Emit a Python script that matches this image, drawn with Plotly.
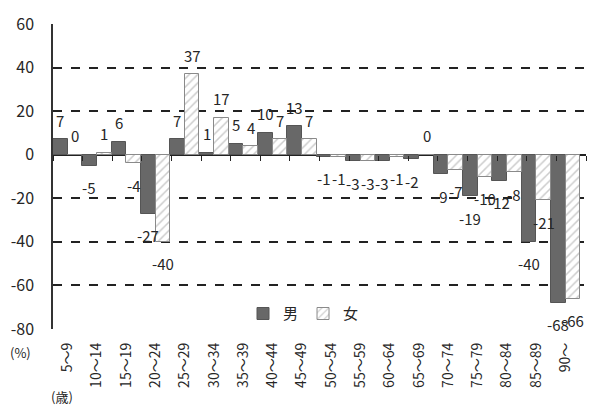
import plotly.graph_objects as go

# Age groups and percentage change by sex
age_groups = ["5～9", "10～14", "15～19", "20～24", "25～29", "30～34", "35～39",
              "40～44", "45～49", "50～54", "55～59", "60～64", "65～69", "70～74",
              "75～79", "80～84", "85～89", "90～"]
male = [7, -5, 6, -27, 7, 1, 5, 10, 13, -1, -3, -3, -2, -9, -19, -12, -40, -68]
female = [0, 1, -4, -40, 37, 17, 4, 7, 7, -1, -3, -1, 0, -7, -10, -8, -21, -66]

y_ticks = [-80, -60, -40, -20, 0, 20, 40, 60]
y_tick_text = ["-80", "-60", "-40", "-20", "0", "20", "40", "60"]

FONT = "Noto Sans CJK JP, Noto Sans, sans-serif"
TXT = "#262626"

fig = go.Figure()
fig.add_trace(go.Bar(
    name="男", x=age_groups, y=male,
    marker=dict(color="#686868", line=dict(color="#555555", width=1)),
))
fig.add_trace(go.Bar(
    name="女", x=age_groups, y=female,
    marker=dict(color="white", line=dict(color="#8a8a8a", width=1),
                pattern=dict(shape="/", fgcolor="#9a9a9a", bgcolor="white",
                             size=6, solidity=0.25)),
))
# empty trace so the category-boundary tick axis at zero is rendered
fig.add_trace(go.Scatter(x=[], y=[], xaxis="x2", showlegend=False, hoverinfo="skip"))

# value labels just beyond the end of each bar
annotations = []
for vals, dx in ((male, -7.5), (female, 7.5)):
    for cat, v in zip(age_groups, vals):
        annotations.append(dict(
            x=cat, y=v, xref="x", yref="y", text=str(v), showarrow=False,
            xshift=dx, yshift=19 if v >= 0 else -22,
            font=dict(family=FONT, size=15, color=TXT),
        ))

annotations += [
    dict(text="(%)", xref="paper", yref="paper", x=-0.061, y=-0.078,
         xanchor="center", yanchor="middle", showarrow=False,
         font=dict(family=FONT, size=13, color=TXT)),
    dict(text="(歳)", xref="paper", yref="paper", x=0.017, y=-0.220,
         xanchor="center", yanchor="middle", showarrow=False,
         font=dict(family=FONT, size=13, color=TXT)),
]

fig.update_layout(
    width=597, height=413,
    margin=dict(l=47, r=11, t=20, b=84),
    paper_bgcolor="white", plot_bgcolor="white",
    barmode="group", bargap=0, bargroupgap=0,
    font=dict(family=FONT, color=TXT),
    showlegend=True,
    legend=dict(orientation="h", x=0.47, y=0.05, xanchor="center", yanchor="middle",
                font=dict(family=FONT, size=15, color=TXT), bgcolor="rgba(0,0,0,0)",
                itemwidth=30),
    xaxis=dict(
        type="category", tickangle=-90, ticks="", showline=False, showgrid=False,
        tickfont=dict(family=FONT, size=14, color=TXT), ticklabelstandoff=10,
    ),
    xaxis2=dict(
        overlaying="x", anchor="free", position=80 / 140, side="bottom",
        range=[-0.5, len(age_groups) - 0.5],
        tickvals=[k - 0.5 for k in range(len(age_groups) + 1)],
        ticks="outside", ticklen=5, tickcolor="#222222", tickwidth=1,
        showticklabels=False, showgrid=False, showline=False, zeroline=False,
    ),
    yaxis=dict(
        range=[-80, 60], tickvals=y_ticks, ticktext=y_tick_text,
        showgrid=True, gridcolor="#222222", gridwidth=1.5, griddash="dash",
        zeroline=True, zerolinecolor="#222222", zerolinewidth=1.5,
        showline=True, linecolor="#333333", linewidth=1.5,
        ticks="", ticklabelstandoff=14,
        tickfont=dict(family=FONT, size=16, color=TXT),
    ),
    annotations=annotations,
)

fig.write_html("out.html")
